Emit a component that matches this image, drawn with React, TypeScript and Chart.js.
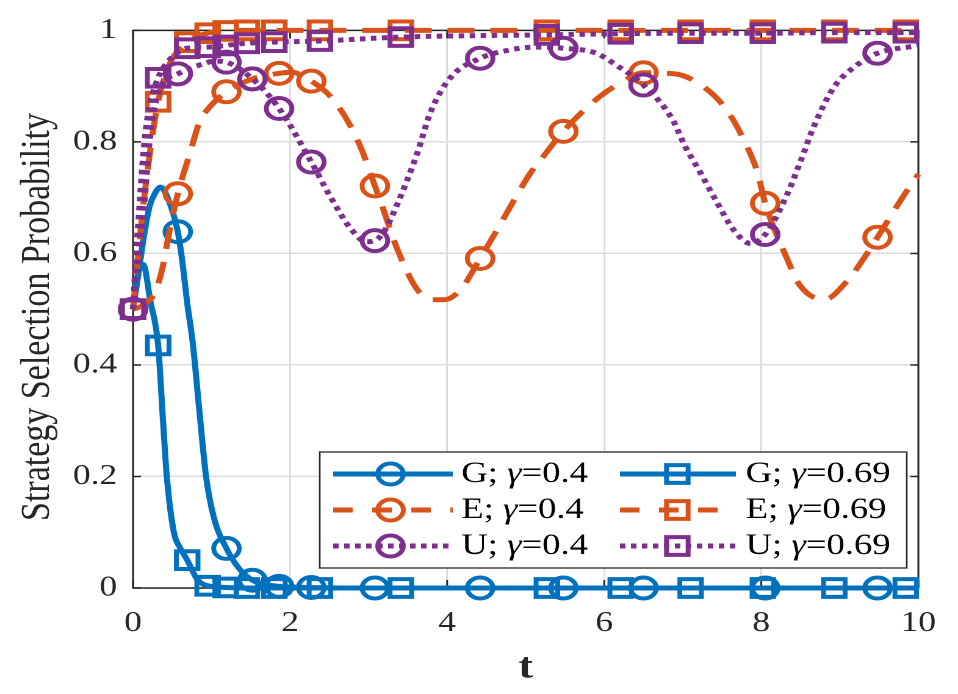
import React, { useEffect, useRef } from 'react';
import { Chart, registerables } from 'chart.js';

Chart.register(...registerables);

// ---- data ----
const xTicks = [0, 2, 4, 6, 8, 10];
const yTicks = [0, 0.2, 0.4, 0.6, 0.8, 1];

const circleTimes = [0, 0.57, 1.19, 1.52, 1.86, 2.27, 3.08, 4.42, 5.48, 6.5, 8.05, 9.48];
const squareTimes = [0, 0.32, 0.69, 0.95, 1.18, 1.45, 1.8, 2.38, 3.41, 5.27, 6.21, 7.1, 8.02, 8.93, 9.84];

const gT04 = [0, 0.07, 0.13, 0.21, 0.28, 0.35, 0.44, 0.57, 0.63, 0.69, 0.76, 0.85, 0.93, 1.03, 1.19, 1.35, 1.52, 1.7, 1.86, 2.27, 3.08, 4.42, 5.48, 6.5, 8.05, 9.48, 10];
const gY04 = [0.5, 0.565, 0.623, 0.684, 0.708, 0.719, 0.7, 0.639, 0.583, 0.511, 0.44, 0.31, 0.2, 0.126, 0.071, 0.035, 0.014, 0.006, 0.003, 0.001, 0, 0, 0, 0, 0, 0, 0];

const gT069 = [0, 0.05, 0.13, 0.22, 0.32, 0.38, 0.43, 0.52, 0.6, 0.69, 0.82, 0.95, 1.18, 1.45, 1.8, 2.38, 3.41, 5.27, 6.21, 7.1, 8.02, 8.93, 9.84, 10];
const gY069 = [0.5, 0.555, 0.58, 0.515, 0.435, 0.304, 0.2, 0.1, 0.072, 0.05, 0.015, 0.004, 0.001, 0, 0, 0, 0, 0, 0, 0, 0, 0, 0, 0];

const eT04 = [0, 0.1, 0.2, 0.28, 0.38, 0.45, 0.57, 0.72, 0.85, 0.93, 1.19, 1.52, 1.86, 2.02, 2.27, 2.49, 2.71, 2.9, 3.08, 3.16, 3.37, 3.62, 3.8, 3.96, 4.17, 4.42, 4.63, 4.85, 5.05, 5.22, 5.48, 5.94, 6.2, 6.5, 6.9, 7.32, 7.58, 7.79, 7.95, 8.05, 8.33, 8.49, 8.8, 9.09, 9.3, 9.48, 9.81, 10];
const eY04 = [0.5, 0.505, 0.515, 0.53, 0.577, 0.63, 0.707, 0.778, 0.837, 0.855, 0.89, 0.913, 0.923, 0.925, 0.909, 0.885, 0.843, 0.79, 0.721, 0.69, 0.606, 0.535, 0.517, 0.517, 0.535, 0.591, 0.641, 0.695, 0.742, 0.773, 0.819, 0.881, 0.905, 0.924, 0.922, 0.893, 0.853, 0.8, 0.746, 0.69, 0.59, 0.543, 0.517, 0.55, 0.59, 0.629, 0.703, 0.742];

const eT069 = [0, 0.05, 0.1, 0.15, 0.2, 0.25, 0.32, 0.45, 0.69, 0.95, 1.18, 1.45, 1.8, 2.38, 3.41, 5.27, 6.21, 7.1, 8.02, 8.93, 9.84, 10];
const eY069 = [0.5, 0.575, 0.645, 0.71, 0.765, 0.815, 0.872, 0.935, 0.979, 0.995, 0.999, 1, 1, 1, 1, 1, 1, 1, 1, 1, 1, 1];

const uT04 = [0, 0.05, 0.1, 0.15, 0.21, 0.28, 0.38, 0.57, 0.85, 1.05, 1.19, 1.52, 1.86, 2.27, 2.52, 2.78, 2.97, 3.08, 3.2, 3.37, 3.62, 3.79, 4.04, 4.42, 4.8, 5.1, 5.48, 5.9, 6.15, 6.5, 6.87, 7.03, 7.2, 7.41, 7.66, 7.86, 8.05, 8.32, 8.51, 8.67, 8.93, 9.22, 9.48, 10];
const uY04 = [0.5, 0.57, 0.635, 0.7, 0.8, 0.865, 0.905, 0.922, 0.938, 0.945, 0.943, 0.913, 0.86, 0.764, 0.7, 0.643, 0.621, 0.623, 0.64, 0.69, 0.78, 0.854, 0.915, 0.95, 0.965, 0.97, 0.968, 0.959, 0.938, 0.902, 0.84, 0.792, 0.751, 0.698, 0.64, 0.618, 0.634, 0.703, 0.769, 0.828, 0.899, 0.938, 0.959, 0.973];

const uT069 = [0, 0.04, 0.08, 0.12, 0.17, 0.22, 0.32, 0.45, 0.69, 0.95, 1.18, 1.45, 1.8, 2.38, 3.41, 5.27, 6.21, 7.1, 8.02, 8.93, 9.84, 10];
const uY069 = [0.5, 0.6, 0.68, 0.76, 0.83, 0.87, 0.915, 0.945, 0.968, 0.97, 0.973, 0.977, 0.979, 0.981, 0.988, 0.992, 0.994, 0.995, 0.995, 0.996, 0.996, 0.996];

const yTitle = 'Strategy Selection Probability';
const xTitle = 't';

// ---- styling ----
const BLUE = '#0072BD';
const ORANGE = '#D95319';
const PURPLE = '#7E2F8E';
const AXIS = '#262626';
const FONT = '"Liberation Serif", "Times New Roman", serif';
const SOLID: number[] = [];
const DASH = [22, 13];
const DOT = [4.5, 4.5];
const LW = 5;
const MLW = 4;
const CIRCLE_R = 10.5;
const RECT_R = 12.5;

const LOGICAL_W = 785;
const H = 694;
const SCALE_X = 958 / LOGICAL_W;

function series(label: string, ts: number[], ys: number[], color: string, dash: number[], style: string, marks: number[]) {
  const r = style === 'circle' ? CIRCLE_R : RECT_R;
  return {
    label,
    data: ts.map((t, i) => ({ x: t, y: ys[i] })),
    borderColor: color,
    borderWidth: LW,
    borderDash: dash,
    borderCapStyle: 'butt',
    borderJoinStyle: 'round',
    pointStyle: style,
    pointRadius: (c: any) => (c.raw && marks.includes(c.raw.x) ? r : 0),
    pointHoverRadius: 0,
    pointHitRadius: 0,
    pointBorderColor: color,
    pointBackgroundColor: 'rgba(0,0,0,0)',
    pointBorderWidth: MLW,
    fill: false,
    cubicInterpolationMode: 'monotone',
    clip: false,
  };
}

const legendItems = [
  { name: 'G', g: '0.4', color: BLUE, dash: SOLID, marker: 'circle', col: 0, row: 0 },
  { name: 'G', g: '0.69', color: BLUE, dash: SOLID, marker: 'rect', col: 1, row: 0 },
  { name: 'E', g: '0.4', color: ORANGE, dash: [16, 16], marker: 'circle', col: 0, row: 1 },
  { name: 'E', g: '0.69', color: ORANGE, dash: [16, 16], marker: 'rect', col: 1, row: 1 },
  { name: 'U', g: '0.4', color: PURPLE, dash: DOT, marker: 'circle', col: 0, row: 2 },
  { name: 'U', g: '0.69', color: PURPLE, dash: DOT, marker: 'rect', col: 1, row: 2 },
];

const boxPlugin = {
  id: 'matlabBox',
  beforeDatasetsDraw(chart: any) {
    const { ctx, chartArea, scales } = chart;
    const { left, right, top, bottom } = chartArea;
    ctx.save();
    ctx.strokeStyle = AXIS;
    ctx.lineWidth = 1.5;
    ctx.setLineDash([]);
    ctx.strokeRect(left, top, right - left, bottom - top);
    ctx.beginPath();
    xTicks.forEach((v) => {
      const px = scales.x.getPixelForValue(v);
      ctx.moveTo(px, bottom);
      ctx.lineTo(px, bottom - 8);
      ctx.moveTo(px, top);
      ctx.lineTo(px, top + 8);
    });
    yTicks.forEach((v) => {
      const py = scales.y.getPixelForValue(v);
      ctx.moveTo(left, py);
      ctx.lineTo(left + 6.5, py);
      ctx.moveTo(right, py);
      ctx.lineTo(right - 6.5, py);
    });
    ctx.stroke();
    ctx.restore();
  },
  afterDraw(chart: any) {
    const { ctx, chartArea } = chart;
    ctx.save();
    ctx.fillStyle = AXIS;
    ctx.textAlign = 'center';
    ctx.textBaseline = 'middle';
    // y title
    ctx.translate(31, 317);
    ctx.rotate(-Math.PI / 2);
    ctx.font = `34px ${FONT}`;
    ctx.fillText(yTitle, 0, 0);
    ctx.restore();
    ctx.save();
    ctx.fillStyle = AXIS;
    ctx.textAlign = 'center';
    ctx.textBaseline = 'middle';
    ctx.font = `bold 36px ${FONT}`;
    ctx.fillText(xTitle, (chartArea.left + chartArea.right) / 2, 668);
    ctx.restore();
  },
};

const legendPlugin = {
  id: 'matlabLegend',
  afterDraw(chart: any) {
    const { ctx } = chart;
    const box = { x: 262, y: 452, w: 481, h: 116 };
    const rows = [474, 510, 546];
    const cols = [
      { l1: 273, l2: 371, m: 320, t: 378 },
      { l1: 508, l2: 603, m: 555, t: 611 },
    ];
    ctx.save();
    ctx.fillStyle = '#ffffff';
    ctx.fillRect(box.x, box.y, box.w, box.h);
    ctx.strokeStyle = AXIS;
    ctx.lineWidth = 1.3;
    ctx.setLineDash([]);
    ctx.strokeRect(box.x, box.y, box.w, box.h);

    legendItems.forEach((it) => {
      const c = cols[it.col];
      const y = rows[it.row];
      ctx.strokeStyle = it.color;
      ctx.lineWidth = LW;
      ctx.lineCap = 'butt';
      ctx.setLineDash(it.dash);
      ctx.beginPath();
      ctx.moveTo(c.l1, y);
      ctx.lineTo(c.l2, y);
      ctx.stroke();
      ctx.setLineDash([]);
      ctx.lineWidth = MLW;
      ctx.beginPath();
      if (it.marker === 'circle') {
        ctx.arc(c.m, y, CIRCLE_R, 0, Math.PI * 2);
      } else {
        const s = RECT_R * Math.SQRT1_2;
        ctx.rect(c.m - s, y - s, 2 * s, 2 * s);
      }
      ctx.stroke();

      ctx.fillStyle = '#000';
      ctx.textBaseline = 'middle';
      ctx.textAlign = 'left';
      let x = c.t;
      ctx.font = `30px ${FONT}`;
      const p1 = `${it.name}; `;
      ctx.fillText(p1, x, y);
      x += ctx.measureText(p1).width;
      ctx.font = `italic 30px ${FONT}`;
      ctx.fillText('γ', x, y);
      x += ctx.measureText('γ').width;
      ctx.font = `30px ${FONT}`;
      ctx.fillText(`=${it.g}`, x, y);
    });
    ctx.restore();
  },
};

const fmt = (v: any) => String(Math.round(Number(v) * 10) / 10);

export default function App() {
  const ref = useRef<HTMLCanvasElement>(null);

  useEffect(() => {
    document.body.style.margin = '0';
    const canvas = ref.current;
    if (!canvas) return;
    const datasets: any[] = [
      series('U; γ=0.69', uT069, uY069, PURPLE, DOT, 'rect', squareTimes),
      series('U; γ=0.4', uT04, uY04, PURPLE, DOT, 'circle', circleTimes),
      series('E; γ=0.69', eT069, eY069, ORANGE, DASH, 'rect', squareTimes),
      series('E; γ=0.4', eT04, eY04, ORANGE, DASH, 'circle', circleTimes),
      series('G; γ=0.69', gT069, gY069, BLUE, SOLID, 'rect', squareTimes),
      series('G; γ=0.4', gT04, gY04, BLUE, SOLID, 'circle', circleTimes),
    ];
    const tickFont = { family: FONT, size: 29 };
    const chart = new Chart(canvas, {
      type: 'line',
      data: { datasets },
      options: {
        responsive: false,
        animation: false,
        devicePixelRatio: 2,
        events: [],
        layout: { padding: { left: 0, top: 25, right: 27, bottom: 5 } },
        plugins: { legend: { display: false }, tooltip: { enabled: false } },
        scales: {
          x: {
            type: 'linear',
            min: 0,
            max: 10,
            ticks: { stepSize: 2, padding: 18, font: tickFont, color: AXIS, maxRotation: 0, callback: fmt },
            grid: { color: '#dcdcdc', lineWidth: 1.5, drawTicks: false },
            border: { display: false },
            afterFit(s: any) {
              s.height = 101;
            },
          },
          y: {
            type: 'linear',
            min: 0,
            max: 1,
            ticks: { stepSize: 0.2, padding: 13, font: tickFont, color: AXIS, callback: fmt },
            grid: { color: '#dcdcdc', lineWidth: 1.5, drawTicks: false },
            border: { display: false },
            afterFit(s: any) {
              s.width = 109;
            },
          },
        },
      } as any,
      plugins: [boxPlugin, legendPlugin],
    });
    return () => chart.destroy();
  }, []);

  return (
    <div style={{ width: 958, height: H, overflow: 'hidden', background: '#fff' }}>
      <div style={{ width: LOGICAL_W, height: H, transform: `scaleX(${SCALE_X})`, transformOrigin: '0 0' }}>
        <canvas ref={ref} width={LOGICAL_W} height={H} />
      </div>
    </div>
  );
}
